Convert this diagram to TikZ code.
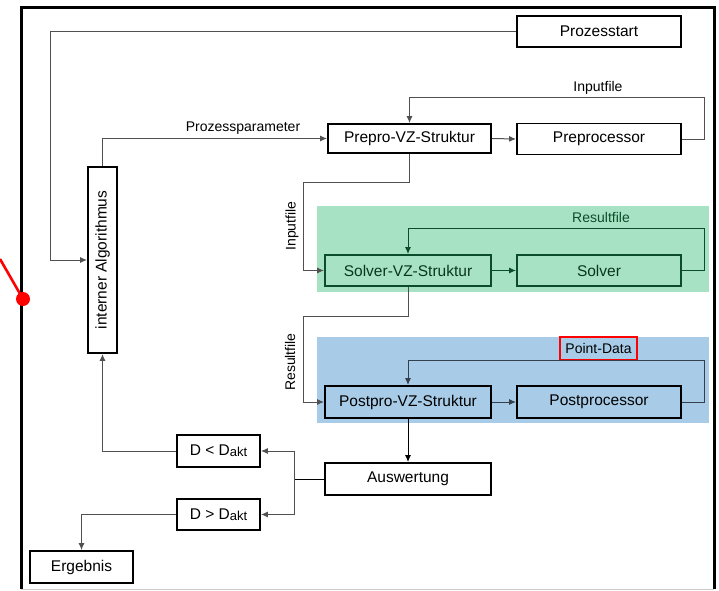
\documentclass[tikz,border=0pt]{standalone}
\usepackage{fontspec}
\setmainfont{Liberation Sans}
\usepackage{xcolor}
\usetikzlibrary{arrows.meta}
\definecolor{gruenfeld}{HTML}{A8E2C4}
\definecolor{blaufeld}{HTML}{A8CCE8}
\definecolor{dunkelgruen}{HTML}{0B4D2B}
\definecolor{linie}{HTML}{505050}
\definecolor{blaulinie}{HTML}{35404C}

\begin{document}
\begin{tikzpicture}[x=1pt,y=-1pt,
    box/.style={draw=black,line width=1.9pt,inner sep=0pt,minimum height=31pt,font=\fontsize{15.5}{18}\selectfont},
    lbl/.style={inner sep=1pt,font=\fontsize{14}{17}\selectfont},
    arr/.style={draw=linie,line width=1pt,-{Latex[length=7pt,width=6pt]}},
    lin/.style={draw=linie,line width=1pt}]

    \useasboundingbox (0,0) rectangle (719,590);

    \fill[gruenfeld] (317,206) rectangle (709,292);
    \fill[blaufeld] (317,337) rectangle (709,423);

    \draw[line width=3pt] (21,589) -- (21,7) -- (714,7) -- (714,589);
    \draw[gray!40,line width=0.8pt] (21,589) -- (714,589);
    \draw[red,line width=2.6pt] (0,259) -- (23,299);
    \fill[red] (23,299) circle (7);

    \node[box,minimum width=164pt] (start) at (599,31.5) {Prozesstart};
    \node[box,minimum width=186pt,minimum height=29pt,rotate=90] (alg) at (102.5,260) {interner Algorithmus};
    \node[box,minimum width=163pt,minimum height=29pt] (prepro) at (409.5,138.5) {Prepro-VZ-Struktur};
    \node[box,minimum width=164pt] (preproc) at (599,139) {Preprocessor};
    \node[box,draw=dunkelgruen,text=dunkelgruen!70!black,minimum width=166pt] (svz) at (408,270.5) {Solver-VZ-Struktur};
    \node[box,draw=dunkelgruen,text=dunkelgruen!70!black,minimum width=164pt] (solver) at (599,270.5) {Solver};
    \node[box,minimum width=166pt,minimum height=32pt] (pvz) at (408,402) {Postpro-VZ-Struktur};
    \node[box,minimum width=164pt,minimum height=32pt] (postproc) at (599,402) {Postprocessor};
    \node[box,minimum width=166pt,minimum height=32pt] (ausw) at (408,479) {Auswertung};
    \node[box,minimum width=83pt,minimum height=32pt] (dkl) at (218.5,451) {D < D\raisebox{-1pt}{\fontsize{13}{15}\selectfont akt}};
    \node[box,minimum width=83pt] (dgr) at (218.5,514.5) {D > D\raisebox{-1pt}{\fontsize{13}{15}\selectfont akt}};
    \node[box,minimum width=103pt,minimum height=32pt] (erg) at (81.5,567) {Ergebnis};

    \node[lbl] (lpar) at (243,128) {Prozessparameter};
    \node[lbl] (lin1) at (598,88) {Inputfile};
    \node[lbl,rotate=90] (lin2) at (292,226) {Inputfile};
    \node[lbl,text=dunkelgruen] (lres1) at (601,217) {Resultfile};
    \node[lbl,rotate=90] (lres2) at (290,362) {Resultfile};
    \node[lbl,draw=red,line width=1.6pt,minimum width=77pt,minimum height=23pt] (lpoint) at (598.5,348.5) {Point-Data};

    \coordinate (gabel) at (294,479);

    \draw[arr] (start.west) -| (50,260) -- (alg.north);
    \draw[arr] (alg.east) |- (prepro.west);
    \draw[arr] (prepro.east) -- (preproc.west);
    \draw[arr] (preproc.east) -| (704,97) -| (prepro.north);
    \draw[arr] (prepro.south) |- (303,182) |- (svz.west);
    \draw[arr,draw=dunkelgruen] (svz.east) -- (solver.west);
    \draw[arr,draw=dunkelgruen] (solver.east) -| (704,228) -| (svz.north);
    \draw[arr] (svz.south) |- (303,316) |- (pvz.west);
    \draw[arr,draw=blaulinie] (pvz.east) -- (postproc.west);
    \draw[arr,draw=blaulinie] (postproc.east) -| (704,360) -| (pvz.north);
    \draw[arr,draw=black] (pvz.south) -- (ausw.north);
    \draw[lin,draw=black] (ausw.west) -- (gabel);
    \draw[arr] (gabel) |- (dkl.east);
    \draw[arr] (gabel) |- (dgr.east);
    \draw[arr] (dkl.west) -| (alg.west);
    \draw[arr] (dgr.west) -| (erg.north);
\end{tikzpicture}
\end{document}
